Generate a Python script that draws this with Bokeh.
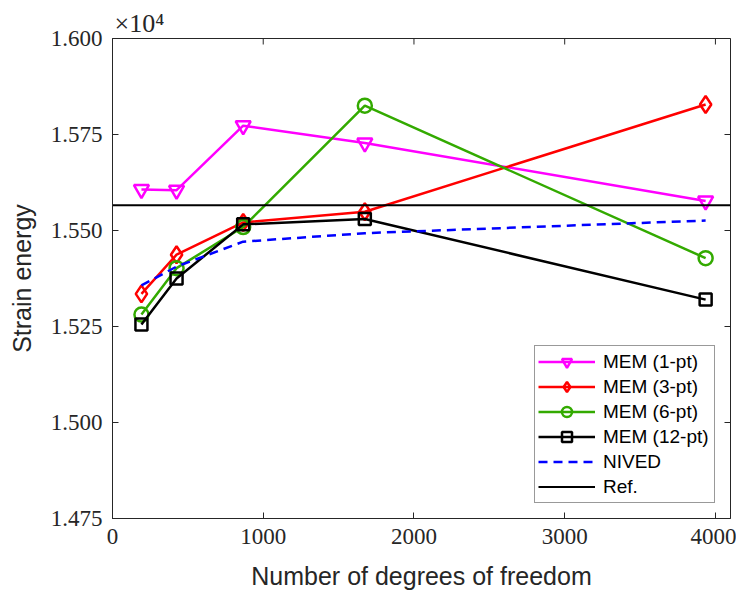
import math
from bokeh.plotting import figure
from bokeh.models import (Range1d, FixedTicker, CustomJSTickFormatter,
                          Legend, LegendItem)
from bokeh.embed import file_html
from bokeh.resources import INLINE

# ---- data ----
dofs = [192, 425, 867, 1674, 3935]
mem_1pt = [15607, 15605, 15773, 15728, 15577]
mem_3pt = [15335, 15437, 15521, 15549, 15828]
mem_6pt = [15281, 15402, 15509, 15825, 15428]
mem_12pt = [15255, 15375, 15516, 15530, 15320]
nived = [15357, 15406, 15471, 15493, 15526]
ref_energy = 15566
x_lim = [0, 4100]
y_lim = [14750, 16000]
x_ticks = [0, 1000, 2000, 3000, 4000]
y_ticks = [14750, 15000, 15250, 15500, 15750, 16000]

AX = "#262626"
p = figure(frame_width=618, frame_height=480,
           x_range=Range1d(*x_lim), y_range=Range1d(*y_lim),
           output_backend="svg", toolbar_location=None,
           min_border_left=112, min_border_top=38, min_border_right=6,
           min_border_bottom=70)
p.xgrid.visible = False
p.ygrid.visible = False
p.outline_line_color = AX
p.outline_line_width = 1
p.background_fill_color = "white"
p.border_fill_color = "white"

p.title.text = "×10⁴"
p.title.align = "left"
p.title.offset = 2
p.title.standoff = 2
p.title.text_font = "Liberation Serif"
p.title.text_font_size = "26px"
p.title.text_font_style = "normal"
p.title.text_color = AX

p.xaxis.ticker = FixedTicker(ticks=x_ticks)
p.yaxis.ticker = FixedTicker(ticks=y_ticks)
p.yaxis.formatter = CustomJSTickFormatter(code="return (tick/10000).toFixed(3);")

for ax in (p.xaxis[0], p.yaxis[0]):
    ax.axis_line_color = AX
    ax.major_tick_line_color = AX
    ax.major_tick_in = 6
    ax.major_tick_out = 0
    ax.minor_tick_line_color = None
    ax.major_label_text_font = "Liberation Serif"
    ax.major_label_text_font_size = "23px"
    ax.major_label_text_color = AX
    ax.axis_label_text_font = "Liberation Sans"
    ax.axis_label_text_font_size = "25px"
    ax.axis_label_text_font_style = "normal"
    ax.axis_label_text_color = AX
    ax.major_label_standoff = 10
p.xaxis.axis_label_standoff = 15
p.yaxis.axis_label_standoff = 12

p.xaxis.axis_label = "Number of degrees of freedom"
p.yaxis.axis_label = "Strain energy"

# inward ticks on the top and right edges of the box
p.scatter(x_ticks, [y_lim[1]] * len(x_ticks), marker="dash", angle=math.pi / 2,
          size=12, line_color=AX, line_width=1)
p.scatter([x_lim[1]] * len(y_ticks), y_ticks, marker="dash",
          size=12, line_color=AX, line_width=1)

LW = 2.5
series = [
    ("MEM (1-pt)", mem_1pt, "#ff00ff", "inverted_triangle", 15),
    ("MEM (3-pt)", mem_3pt, "#ff0000", "diamond", 17),
    ("MEM (6-pt)", mem_6pt, "#33aa00", "circle", 14),
    ("MEM (12-pt)", mem_12pt, "#000000", "square", 12),
]
items = []
for name, ys, col, mk, sz in series:
    l = p.line(dofs, ys, line_color=col, line_width=LW)
    s = p.scatter(dofs, ys, marker=mk, size=sz, line_color=col, line_width=LW,
                  fill_color=None)
    items.append(LegendItem(label=name, renderers=[l, s]))

ln = p.line(dofs, nived, line_color="#0000ff", line_width=LW, line_dash="9 6")
items.append(LegendItem(label="NIVED", renderers=[ln]))
lr = p.line(x_lim, [ref_energy, ref_energy], line_color="#000000", line_width=2)
items.append(LegendItem(label="Ref.", renderers=[lr]))

legend = Legend(items=items, location="bottom_right", margin=15, padding=3,
                spacing=0, glyph_width=57, glyph_height=25, label_height=25,
                label_width=108, label_standoff=8, label_text_font="Liberation Sans",
                label_text_font_size="19px", label_text_color="#000000",
                border_line_color="#333333", border_line_width=1,
                background_fill_color="white", background_fill_alpha=1)
p.add_layout(legend)

open("out.html", "w").write(file_html(p, INLINE))
